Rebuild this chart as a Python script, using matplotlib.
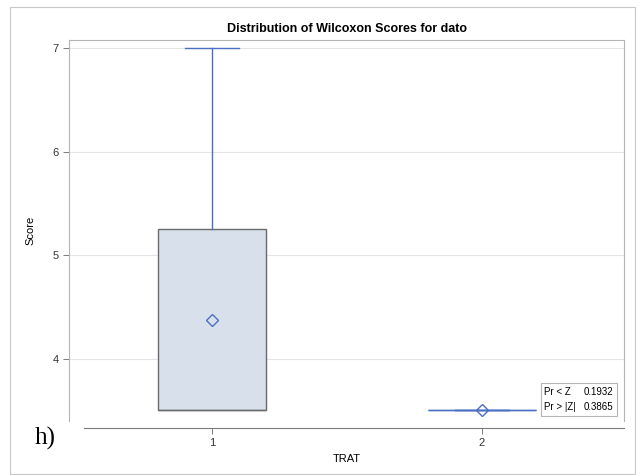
import matplotlib
matplotlib.use("Agg")
import matplotlib.pyplot as plt
from matplotlib.patches import Rectangle

plt.rcParams['font.family'] = ['Liberation Sans', 'DejaVu Sans']

# Wilcoxon scores per treatment
groups = [1, 2]
whislo = [3.5, 3.5]
q1 = [3.5, 3.5]
med = [3.5, 3.5]
q3 = [5.25, 3.5]
whishi = [7.0, 3.5]
means = [4.375, 3.5]

stat_labels = ['Pr < Z', 'Pr > |Z|']
stat_values = ['0.1932', '0.3865']

blue = '#4a6fc4'
gray_edge = '#6a6a6a'

fig = plt.figure(figsize=(6.4, 4.75), dpi=100)
ax = fig.add_axes([0.108, 0.114, 0.867, 0.802])

stats = []
for i in range(len(groups)):
    stats.append(dict(whislo=whislo[i], q1=q1[i], med=med[i], q3=q3[i],
                      whishi=whishi[i], mean=means[i], label=str(groups[i])))

bp = ax.bxp(stats, positions=groups, widths=0.4, patch_artist=True,
            showmeans=True, showfliers=False,
            boxprops=dict(facecolor='#d8e0ec', edgecolor=gray_edge, linewidth=1.0),
            whiskerprops=dict(color=blue, linewidth=1.0),
            capprops=dict(color=blue, linewidth=1.0),
            medianprops=dict(color=gray_edge, linewidth=1.0),
            meanprops=dict(marker='D', markerfacecolor='none', markeredgecolor=blue,
                           markersize=6, markeredgewidth=1.0))
# degenerate box in group 2 shown as a blue line
bp['boxes'][1].set_edgecolor(blue)
bp['medians'][1].set_color(blue)
bp['caps'][0].set_visible(False)

ax.set_xlim(0.47, 2.526)
ax.set_ylim(3.40, 7.08)
ax.set_yticks([4, 5, 6, 7])
ax.set_xticks(groups)
ax.set_xticklabels([str(g) for g in groups])
ax.yaxis.grid(True, color='#e4e4e4', linewidth=0.8)
ax.set_axisbelow(True)

for s in ['left', 'top', 'right']:
    ax.spines[s].set_color('#b4b4b4')
    ax.spines[s].set_linewidth(0.8)
ax.spines['bottom'].set_position(('outward', 5))
ax.spines['bottom'].set_bounds(0.526, 2.526)
ax.spines['bottom'].set_color('#7a7a7a')
ax.tick_params(axis='both', labelsize=8, colors='#333333', length=4, width=0.7)
ax.tick_params(axis='x', color='#7a7a7a')
ax.tick_params(axis='y', color='#7a7a7a')

ax.set_title('Distribution of Wilcoxon Scores for dato', fontsize=9, fontweight='bold', pad=6)
ax.set_ylabel('Score', fontsize=8, labelpad=12)
ax.set_xlabel('TRAT', fontsize=8, labelpad=4)

# statistics inset
x0, y0, w, h = 0.850, 0.013, 0.137, 0.087
for j, (l, v) in enumerate(zip(stat_labels, stat_values)):
    yy = y0 + h * (0.73 - 0.46 * j)
    ax.text(x0 + 0.006, yy, l, transform=ax.transAxes, fontsize=7, va='center', ha='left', zorder=3)
    ax.text(x0 + w - 0.006, yy, v, transform=ax.transAxes, fontsize=7, va='center', ha='right', zorder=3)
ax.add_patch(Rectangle((x0, y0), w, h, transform=ax.transAxes,
                       facecolor='white', edgecolor='#b4b4b4', linewidth=0.8, zorder=2.5))

fig.text(0.055, 0.065, 'h)', fontsize=18, family=['Liberation Serif', 'DejaVu Serif'])

fig.patches.append(Rectangle((10 / 640, 1 / 475), 625 / 640, 467 / 475, transform=fig.transFigure,
                             fill=False, edgecolor='#c8c8c8', linewidth=0.8))

fig.savefig('out.png', dpi=100)
